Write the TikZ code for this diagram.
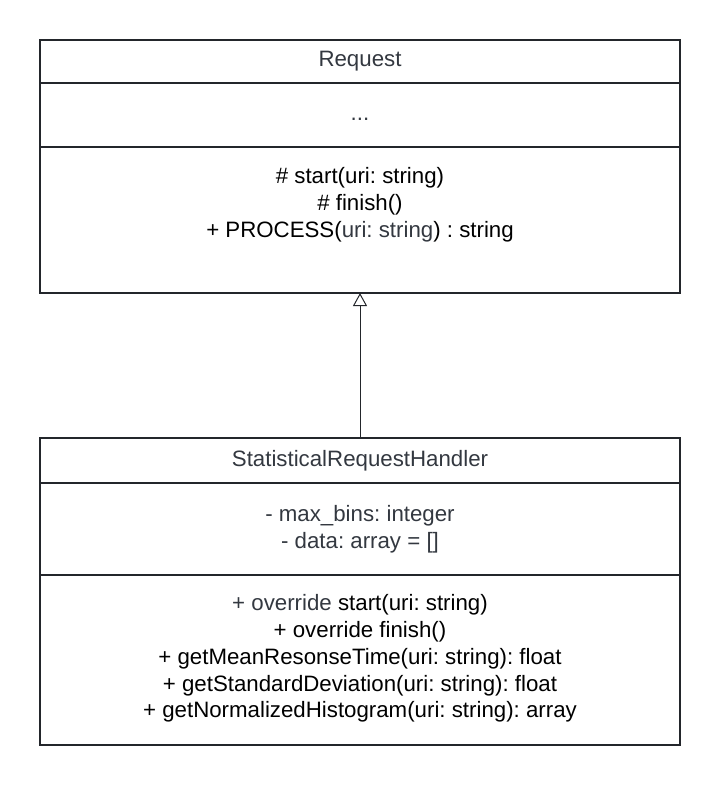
\documentclass[tikz,border=0pt]{standalone}
\usepackage{fontspec}
\setmainfont{Liberation Sans}
\usepackage{tikz}
\usetikzlibrary{arrows.meta,positioning}
\definecolor{linegray}{RGB}{35,38,43}
\definecolor{textgray}{RGB}{51,56,64}
\frenchspacing

\begin{document}
\begin{tikzpicture}[x=0.75pt, y=-0.75pt, every node/.style={font=\fontsize{16.7pt}{20.1pt}\selectfont, align=center}, >=Latex,
  compartment/.style={draw=linegray, line width=1.5pt, minimum width=480pt, inner sep=0pt, outer sep=0pt, text=textgray}]
\useasboundingbox (0,0) rectangle (720,786);
% base class
\node[compartment, minimum height=32.25pt, anchor=north] (req) at (360,40) {Request};
\node[compartment, minimum height=48pt, below=0pt of req] (reqattr) {};
\node[text=textgray] (reqattrtxt) at (360,119) {...};
\node[compartment, minimum height=109.5pt, below=0pt of reqattr] (reqops) {};
\node[text=black] (reqopstxt) at (360,205) {\# start(uri: string)\\ \# finish()\\ + PROCESS(\textcolor{textgray}{uri: string}) : string};
% derived class
\node[compartment, minimum height=33.75pt, anchor=north] (handler) at (360,438) {StatisticalRequestHandler};
\node[compartment, minimum height=69pt, below=0pt of handler] (handlerattr) {- max\_bins: integer\\ - data: array = []};
\node[compartment, minimum height=127.5pt, below=0pt of handlerattr] (handlerops) {};
\node[text=black] (handleropstxt) at (360,658.5) {\textcolor{textgray}{+ override} start(uri: string)\\ + override finish()\\ + getMeanResonseTime(uri: string): float\\ + getStandardDeviation(uri: string): float\\ + getNormalizedHistogram(uri: string): array};
% inheritance
\draw[-{Triangle[open, length=9.75pt, width=10.5pt]}, line width=0.75pt, linegray] (handler.north) -- (reqops.south);
\end{tikzpicture}
\end{document}
